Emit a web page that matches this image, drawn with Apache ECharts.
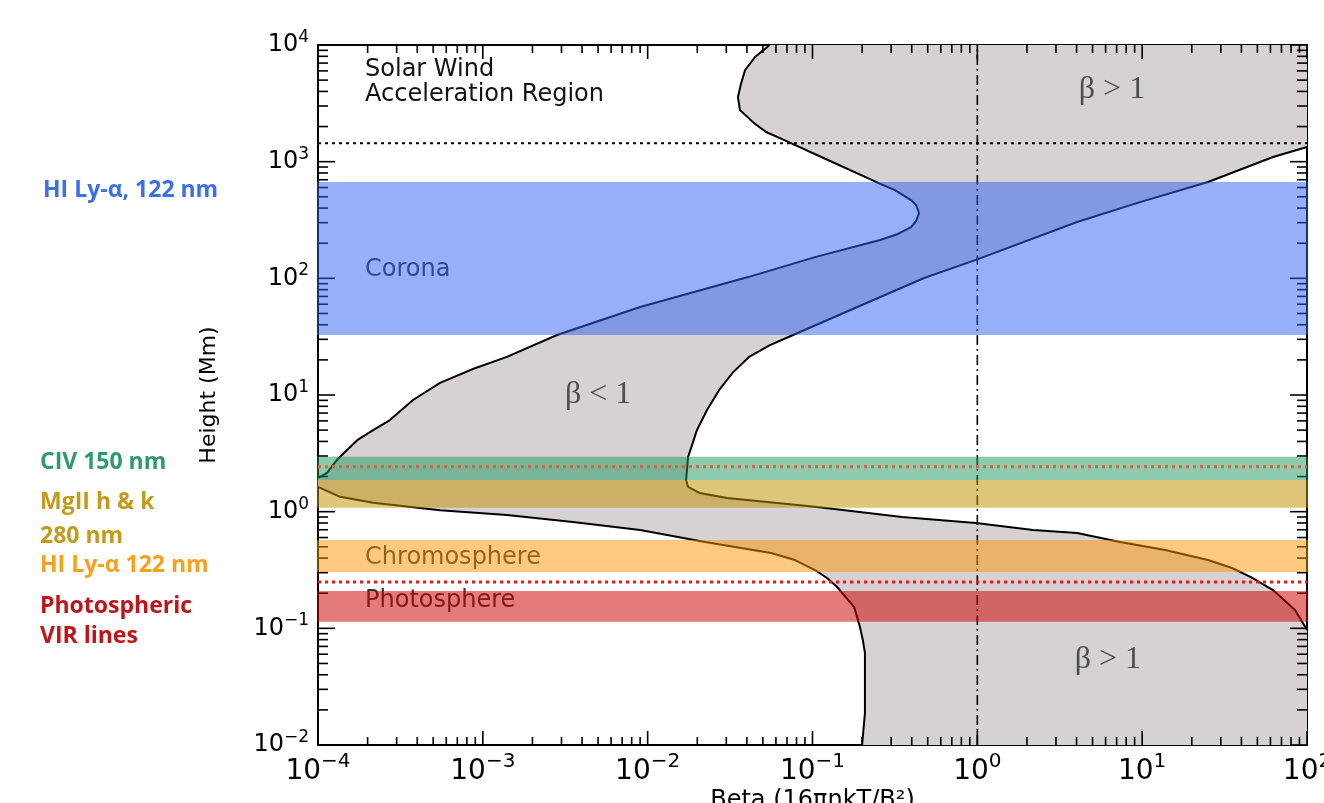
<!DOCTYPE html>
<html><head><meta charset="utf-8">
<script src="https://cdn.jsdelivr.net/npm/echarts@6/dist/echarts.min.js"></script>
<style>html,body{margin:0;padding:0;background:#fff}#c{width:1324px;height:803px}</style>
</head><body><div id="c"></div>
<script>
// ---------- data ----------
const xDecades = [1e-4, 1e-3, 1e-2, 1e-1, 1, 10, 100];
const yDecades = [1e-2, 1e-1, 1, 10, 100, 1e3, 1e4];
const minorMult = [2, 3, 4, 5, 6, 7, 8, 9];

// upper-left boundary (from top edge down to left edge)
const curveA = [[0.055,10000],[0.0448,7890],[0.039,6100],[0.0368,4630],[0.0353,3580],[0.0363,2770],
  [0.0442,2140],[0.0523,1795],[0.067,1535],[0.124,1033],[0.243,670],[0.316,571],[0.396,469],[0.425,425],
  [0.443,363],[0.425,310],[0.396,275],[0.33,240],[0.257,213],[0.1035,152],[0.0412,103],[0.009,56.8],
  [0.00282,32.7],[0.0014,21.2],[0.00087,16.7],[0.00055,12.7],[0.000377,9.06],[0.000273,6.1],
  [0.000216,5.0],[0.000173,4.1],[0.00013,2.77],[0.000113,2.14],[0.0001,1.95]];
// lower-left boundary (from left edge down to bottom edge)
const curveC = [[0.0001,1.63],[0.000136,1.34],[0.000216,1.19],[0.00055,1.03],[0.0014,0.935],
  [0.00352,0.815],[0.009,0.697],[0.0223,0.55],[0.056,0.443],[0.0783,0.385],[0.1035,0.316],
  [0.1225,0.27],[0.141,0.226],[0.179,0.152],[0.194,0.1026],[0.202,0.0794],[0.208,0.0615],
  [0.208,0.0188],[0.2,0.01]];
// right boundary (from right edge top, down-left to tip, back to right edge)
const curveB = [[100,1336],[62.2,1096],[25.1,670],[9.7,450],[4.03,304],[0.98,144],[0.475,100.7],
  [0.0762,32.7],[0.0552,26.8],[0.0412,21.2],[0.033,15.7],[0.0271,11.0],[0.0229,7.44],[0.0199,5.0],
  [0.0176,2.94],[0.0171,1.87],[0.0176,1.63],[0.0207,1.445],[0.0303,1.31],[0.1035,1.10],[0.349,0.9],
  [0.98,0.8],[2.18,0.697],[4.03,0.656],[7.34,0.55],[13.8,0.469],[25.1,0.385],[35.1,0.329],
  [45.7,0.275],[62.2,0.213],[84.6,0.1436],[100,0.097]];

// layer bands (height ranges, Mm)
const bandNames = ['Corona', 'CIV', 'MgII', 'Chromosphere', 'Photosphere'];
const bandLow  = [32.7, 1.87, 1.08, 0.304, 0.114];
const bandHigh = [670, 2.95, 1.87, 0.573, 0.209];

// reference lines
const windLine = 1437;      // solar wind acceleration boundary
const civLine = 2.43;       // dotted line in CIV band
const photoLine = 0.249;    // red dotted line
const betaOne = 1;          // beta = 1

// in-plot annotations
const annoText = ['Solar Wind\nAcceleration Region', 'Corona', 'Chromosphere', 'Photosphere', 'β < 1', 'β > 1', 'β > 1'];
const annoPos = [[1.93e-4, 4770], [1.93e-4, 118], [1.93e-4, 0.40], [1.93e-4, 0.171], [0.005, 10], [6.56, 4115], [6.2, 0.0535]];

// ---------- styles ----------
const bandColors = ['rgba(45,95,240,0.5)', 'rgba(30,150,90,0.5)', 'rgba(195,145,0,0.52)', 'rgba(252,148,0,0.5)', 'rgba(205,0,0,0.52)'];

const xMin = xDecades[0], xMax = xDecades[xDecades.length - 1];
const yMin = yDecades[0], yMax = yDecades[yDecades.length - 1];

const grayOutline = curveA.concat(curveC, [[xMax, yMin]], curveB.slice().reverse(), [[xMax, yMax]]);

function buildTicks(decades, axis) {
  const out = [];
  decades.forEach(function (d, i) {
    out.push(axis === 'x' ? [d, 1, 1] : [1, d, 1]);
    if (i < decades.length - 1) minorMult.forEach(function (m) {
      out.push(axis === 'x' ? [m * d, 1, 0] : [1, m * d, 0]);
    });
  });
  return out;
}
const xTicks = buildTicks(xDecades, 'x');
const yTicks = buildTicks(yDecades, 'y');

function expLabel(v) {
  const e = Math.round(Math.log10(v));
  return '{b|10}{s|' + (e < 0 ? '\u2212' + (-e) : e) + '}';
}

const chart = echarts.init(document.getElementById('c'));
const F = 'DejaVu Sans';
const LF = 'Open Sans';

function hLine(val, color, dash, width, z) {
  return { type: 'line', data: [[xMin, val], [xMax, val]], symbol: 'none', silent: true, z: z,
    lineStyle: { color: color, type: dash, width: width } };
}
function sideLabel(text, x, y, color) {
  return { type: 'text', x: x, y: y, style: { text: text, fill: color, fontSize: 23, fontWeight: 'bold', fontFamily: LF, verticalAlign: 'middle' } };
}

const option = {
  animation: false,
  backgroundColor: '#fff',
  grid: { left: 318, right: 17, top: 45, bottom: 58, show: true, borderColor: '#000', borderWidth: 2,
    backgroundColor: 'transparent', outerBoundsMode: 'none' },
  xAxis: {
    type: 'log', logBase: 10, min: xMin, max: xMax, splitNumber: 6,
    axisLine: { show: true, onZero: false, lineStyle: { color: '#000', width: 2 } },
    axisTick: { show: false }, minorTick: { show: false }, splitLine: { show: false },
    axisLabel: { margin: 7, formatter: expLabel, hideOverlap: false,
      rich: { b: { fontSize: 28, lineHeight: 40, fontFamily: F, color: '#000' },
              s: { fontSize: 20, lineHeight: 20, verticalAlign: 'top', fontFamily: F, color: '#000' } } },
    name: 'Beta (16πnkT/B²)', nameLocation: 'middle', nameGap: 44, nameMoveOverlap: false,
    nameTextStyle: { fontSize: 24, fontFamily: F, color: '#000' }
  },
  yAxis: {
    type: 'log', logBase: 10, min: yMin, max: yMax, splitNumber: 6,
    axisLine: { show: true, onZero: false, lineStyle: { color: '#000', width: 2 } },
    axisTick: { show: false }, minorTick: { show: false }, splitLine: { show: false },
    axisLabel: { margin: 9, formatter: expLabel, hideOverlap: false,
      rich: { b: { fontSize: 24, lineHeight: 32, fontFamily: F, color: '#000' },
              s: { fontSize: 17, lineHeight: 16, verticalAlign: 'top', fontFamily: F, color: '#000' } } },
    name: 'Height (Mm)', nameLocation: 'middle', nameGap: 98, nameMoveOverlap: false,
    nameTextStyle: { fontSize: 22, fontFamily: F, color: '#000' }
  },
  graphic: [
    sideLabel('HI Ly-α, 122 nm', 43, 190, '#3d6fe8'),
    sideLabel('CIV 150 nm', 40, 462, '#2e9b6c'),
    sideLabel('MgII h & k', 40, 502, '#c49a1c'),
    sideLabel('280 nm', 40, 536, '#c49a1c'),
    sideLabel('HI Ly-α 122 nm', 40, 565, '#f7a11a'),
    sideLabel('Photospheric', 40, 606, '#c0141b'),
    sideLabel('VIR lines', 40, 636, '#c0141b')
  ],
  series: [
    { // gray beta region
      type: 'custom', z: 1, silent: true, data: [[1, 1]],
      renderItem: function (params, api) {
        const pts = grayOutline.map(function (p) { return api.coord(p); });
        return { type: 'polygon', shape: { points: pts }, style: { fill: '#d6d2d4' } };
      }
    },
    { // x ticks (bottom and top)
      type: 'custom', z: 2, silent: true, data: xTicks,
      renderItem: function (params, api) {
        const cs = params.coordSys;
        const px = api.coord([api.value(0), 1])[0];
        const len = api.value(2) ? 14 : 8;
        const st = { stroke: '#000', lineWidth: 1.6 };
        return { type: 'group', children: [
          { type: 'line', shape: { x1: px, y1: cs.y + cs.height, x2: px, y2: cs.y + cs.height - len }, style: st },
          { type: 'line', shape: { x1: px, y1: cs.y, x2: px, y2: cs.y + len }, style: st } ] };
      }
    },
    { // y ticks (left and right)
      type: 'custom', z: 2, silent: true, data: yTicks,
      renderItem: function (params, api) {
        const cs = params.coordSys;
        const py = api.coord([1, api.value(1)])[1];
        const len = api.value(2) ? 17 : 10;
        const st = { stroke: '#000', lineWidth: 1.6 };
        return { type: 'group', children: [
          { type: 'line', shape: { x1: cs.x, y1: py, x2: cs.x + len, y2: py }, style: st },
          { type: 'line', shape: { x1: cs.x + cs.width, y1: py, x2: cs.x + cs.width - len, y2: py }, style: st } ] };
      }
    },
    { type: 'line', data: curveA, symbol: 'none', silent: true, z: 3, lineStyle: { color: '#000', width: 2 } },
    { type: 'line', data: curveC, symbol: 'none', silent: true, z: 3, lineStyle: { color: '#000', width: 2 } },
    { type: 'line', data: curveB, symbol: 'none', silent: true, z: 3, lineStyle: { color: '#000', width: 2 } },
    { type: 'line', data: [[betaOne, yMin], [betaOne, yMax]], symbol: 'none', silent: true, z: 3,
      lineStyle: { color: '#000', width: 1.6, type: [10, 4, 2, 4] } },
    hLine(windLine, '#000', [3, 4], 2, 4),
    { // in-plot annotations
      type: 'custom', z: 4, silent: true, data: annoPos,
      renderItem: function (params, api) {
        const i = params.dataIndex;
        const p = api.coord([api.value(0), api.value(1)]);
        const isBeta = annoText[i].indexOf('β') === 0;
        return { type: 'text', x: p[0], y: p[1], style: {
          text: annoText[i],
          fontFamily: isBeta ? 'Liberation Serif' : F,
          fontSize: isBeta ? 32 : 24,
          lineHeight: isBeta ? 36 : 25,
          fill: isBeta ? '#4d4d4d' : (i === 0 ? '#111' : '#333'),
          align: isBeta ? 'center' : 'left',
          verticalAlign: 'middle' } };
      }
    },
    { // atmospheric layer bands
      type: 'custom', z: 10, silent: true, data: bandLow.map(function (lo, i) { return [1, lo]; }),
      renderItem: function (params, api) {
        const cs = params.coordSys;
        const i = params.dataIndex;
        const yTop = api.coord([1, bandHigh[i]])[1];
        const yBot = api.coord([1, bandLow[i]])[1];
        return { type: 'rect', shape: { x: cs.x - 1, y: yTop, width: cs.width + 2, height: yBot - yTop },
          style: { fill: bandColors[i] } };
      }
    },
    hLine(civLine, '#d9603c', [3, 4], 3, 11),
    hLine(photoLine, '#ff1010', [3, 4], 3, 11)
  ]
};
chart.setOption(option);
</script>
</body></html>
